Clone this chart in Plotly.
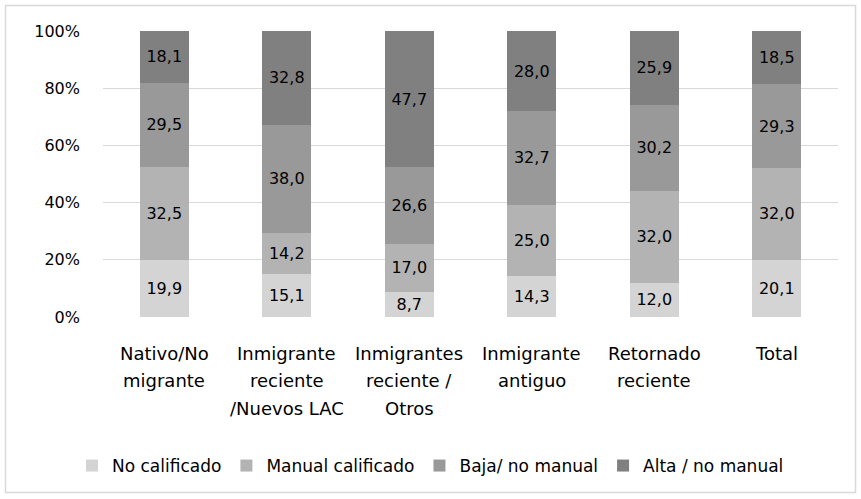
import plotly.graph_objects as go

categories = ["Nativo/No<br>migrante", "Inmigrante<br>reciente<br>/Nuevos LAC",
              "Inmigrantes<br>reciente /<br>Otros", "Inmigrante<br>antiguo",
              "Retornado<br>reciente", "Total"]
series_names = ["No calificado", "Manual calificado", "Baja/ no manual", "Alta / no manual"]
no_calificado = [19.9, 15.1, 8.7, 14.3, 12.0, 20.1]
manual_calificado = [32.5, 14.2, 17.0, 25.0, 32.0, 32.0]
baja_no_manual = [29.5, 38.0, 26.6, 32.7, 30.2, 29.3]
alta_no_manual = [18.1, 32.8, 47.7, 28.0, 25.9, 18.5]
y_ticks = [0, 20, 40, 60, 80, 100]
y_tick_labels = [f"{v}%" for v in y_ticks]

colors = ["#d4d4d4", "#b3b3b3", "#999999", "#808080"]
FONT = "DejaVu Sans"

fig = go.Figure()
xs = list(range(len(categories)))
for name, vals, col in zip(series_names,
                           [no_calificado, manual_calificado, baja_no_manual, alta_no_manual],
                           colors):
    fig.add_trace(go.Bar(
        x=xs, y=vals, name=name, marker=dict(color=col, line=dict(width=0)),
        texttemplate="%{y:.1f}", textposition="inside", insidetextanchor="middle",
        textangle=0, constraintext="none",
        textfont=dict(family=FONT, size=16, color="#000000"),
        hoverinfo="skip",
    ))

annotations = []
for i, cat in enumerate(categories):
    for j, line in enumerate(cat.split("<br>")):
        annotations.append(dict(
            x=i, y=0, xref="x", yref="paper", text=line, showarrow=False,
            xanchor="center", yanchor="middle", yshift=-36 - 27.5 * j,
            font=dict(family=FONT, size=18, color="#000000"),
        ))

W, H = 861, 499
ml, mr, mt, mb = 103, 23, 31, 182
pw, ph = W - ml - mr, H - mt - mb

def px_x(p):
    return (p - ml) / pw

def px_y(p):
    return (H - mb - p) / ph

fig.add_shape(type="rect", xref="paper", yref="paper",
              x0=px_x(5.5), x1=px_x(855.5), y0=px_y(492.5), y1=px_y(5.5),
              line=dict(color="#d9d9d9", width=1.5), fillcolor="rgba(0,0,0,0)",
              layer="above")

fig.update_layout(
    width=W, height=H,
    margin=dict(l=ml, r=mr, t=mt, b=mb, pad=0),
    barmode="stack", bargap=0.6,
    separators=",.",
    paper_bgcolor="white", plot_bgcolor="white",
    font=dict(family=FONT, size=16, color="#000000"),
    xaxis=dict(range=[-0.5, len(categories) - 0.5], showticklabels=False,
               showgrid=False, zeroline=False, showline=False, ticks=""),
    yaxis=dict(range=[0, 100], tickvals=y_ticks, ticktext=y_tick_labels,
               showgrid=True, gridcolor="#d9d9d9", gridwidth=1.3,
               zeroline=False, showline=False, ticks="", ticklabelstandoff=22,
               tickfont=dict(family=FONT, size=16, color="#000000")),
    legend=dict(orientation="h", xref="container", yref="container",
                x=0.5, xanchor="center", y=(H - 466) / H, yanchor="middle",
                font=dict(family=FONT, size=17, color="#000000"),
                bgcolor="rgba(0,0,0,0)",
                traceorder="normal", itemclick=False),
    annotations=annotations,
    showlegend=True,
)

fig.write_html("out.html", config={"displayModeBar": False},
               post_script="document.body.style.margin='0';document.body.style.overflow='hidden';")
